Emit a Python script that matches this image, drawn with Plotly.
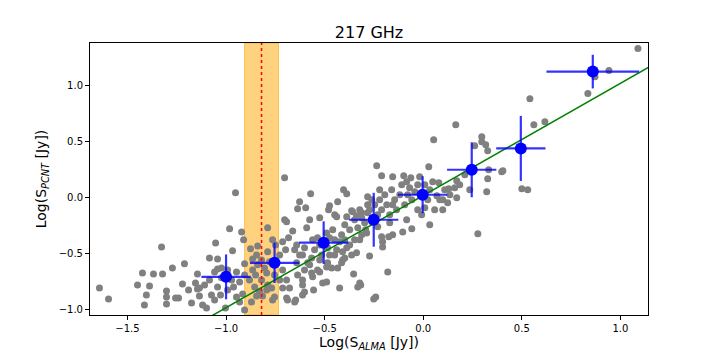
import plotly.graph_objects as go

# gray sources: log S_ALMA vs log S_PCNT
src_x = [
    -1.642, -1.596, -1.424, -1.449, -1.388, -1.404, -1.414, -1.368, -1.322, -1.327,
    -1.302, -1.302, -1.302, -1.272, -1.211, -1.256, -1.241, -1.221, -1.190, -1.175,
    -1.155, -1.145, -1.145, -1.135, -1.119, -1.099, -1.084, -1.053, -1.043, -1.043,
    -1.023, -1.043, -1.028, -1.003, -0.982, -0.967, -0.921, -0.911, -0.962, -0.947,
    -0.916, -0.947, -0.906, -0.876, -0.865, -0.865, -0.840, -0.845, -0.881, -0.855,
    -0.871, -0.845, -0.815, -0.789, -0.764, -0.789, -0.794, -0.769, -0.764, -0.693,
    -0.713, -0.698, -0.683, -0.662, -0.642, -0.713, -0.693, -0.693, -0.647, -0.678,
    -0.612, -0.602, -0.612, -0.586, -0.576, -0.591, -0.536, -0.510, -0.525, -0.490,
    -0.475, -0.434, -0.424, -0.409, -0.388, -0.353, -0.332, -0.312, -0.297, -0.282,
    -0.282, -0.358, -0.388, -0.439, -0.459, -0.414, -0.439, -0.490, -0.561, -0.602,
    -0.642, -0.561,
    -0.703, -0.571, -0.627, -0.596, -0.637, -0.434, -0.404, -0.388, -0.475, -0.480,
    -0.449, -0.525, -0.703, -0.363, -0.312, -0.338, -0.952,
    -0.688, -0.652, -0.612, -0.556, -0.490, -0.322, -0.754, -0.794, -0.713, -0.612,
    -0.566, -0.525, -0.464, -0.414, -0.409, -0.338, -0.322, -0.287, -0.485,
    0.033, -0.058, -0.104, 0.277, -0.155, -0.175, -0.211, -0.206, -0.206, -0.272,
    -0.180, -0.241, -0.251, -0.170, -0.084, -0.231,
    0.500, 0.530, 0.322, 0.327, 0.398, 0.170, 0.099, 0.124, -0.317, -0.018,
    -0.084, 0.069, 0.008, -0.155,
    1.089, 0.942, 0.871, 0.835, 0.541, 0.561, 0.617, 0.165, 0.053, 0.297,
    0.261, 0.297, 0.317, 0.327, -0.236, -0.211, 0.028, 0.332, 0.404, -0.099,
    -0.155, -0.063, 0.170, 0.129, 0.079, 0.099,
    -0.398, -0.373, -0.348, -0.332, -0.312, -0.292, -0.272, -0.261, -0.246, -0.231,
    -0.221, -0.211, -0.195, -0.185, -0.170, -0.160, -0.145, -0.135, -0.119, -0.109,
    -0.094, -0.079, -0.069, -0.058, -0.043, -0.028, -0.221, -0.261, -0.282, -0.322,
    -0.348, -0.373, -0.398, -0.424, -0.363, -0.398, -0.449, -0.475, -0.500, -0.536,
    -0.551, -0.515, -0.485, -0.449, -0.566, -0.627, -0.652, -0.728, -0.749, -0.820,
    -0.840, -0.805, -0.779, -0.754, -0.728, -0.820, -0.789, -0.850, -0.906, -0.931,
    -0.972, -0.992, -1.023, -1.058, -1.084, -1.109, -1.135, -0.992, -0.931, -1.074,
    -1.058, -0.906, -0.830, -0.602, -0.576, -0.525, -0.637,
    0.008, 0.033, 0.048, 0.084, 0.109, 0.135, 0.160, 0.023, -0.028, -0.008,
    0.058, 0.185, 0.211, 0.236,
]
src_y = [
    -0.804, -0.902, -0.670, -0.777, -0.786, -0.866, -0.955, -0.679, -0.679, -0.438,
    -0.830, -0.884, -0.946, -0.625, -0.589, -0.893, -0.893, -0.768, -0.821, -0.938,
    -0.759, -0.679, -0.813, -0.875, -0.955, -0.982, -0.536, -0.402, -0.545, -0.634,
    -0.714, -0.795, -0.866, -0.982, -0.277, -0.473, -0.304, -0.375, -0.795, -0.884,
    -0.857, -0.661, -0.589, -0.455, -0.545, -0.643, -0.429, -0.509, -0.732, -0.795,
    -0.929, -0.875, -0.875, -0.268, -0.375, -0.482, -0.670, -0.804, -0.911, -0.214,
    -0.393, -0.464, -0.357, -0.295, -0.420, -0.643, -0.732, -0.893, -0.911, -0.804,
    -0.777, -0.839, -0.509, -0.580, -0.196, -0.268, -0.643, -0.759, -0.420, -0.616,
    -0.509, -0.625, -0.804, -0.554, -0.446, -0.679, -0.795, -0.330, -0.223, -0.134,
    0.009, -0.125, -0.170, -0.170, -0.286, -0.330, -0.464, -0.313, -0.375, -0.446,
    -0.580, -0.705,
    0.179, 0.036, -0.036, -0.089, -0.098, -0.036, 0.071, 0.036, -0.071, -0.107,
    -0.152, -0.179, -0.196, -0.116, -0.134, -0.161, 0.045,
    -0.911, -0.929, -0.866, -0.821, -0.750, -0.759, -0.884, -0.821, -0.804, -0.732,
    -0.670, -0.661, -0.625, -0.580, -0.482, -0.491, -0.375, -0.313, -0.580,
    -0.241, -0.277, -0.304, -0.321, -0.330, -0.348, -0.348, -0.438, -0.393, -0.518,
    -0.661, -0.884, -0.902, -0.223, -0.196, -0.259,
    0.080, 0.071, 0.054, 0.170, 0.232, 0.000, -0.107, -0.045, -0.777, 0.188,
    0.143, 0.018, -0.089, -0.063,
    1.330, 1.134, 1.080, 0.929, 0.884, 0.652, 0.679, 0.652, 0.518, 0.545,
    0.464, 0.500, 0.473, 0.420, 0.286, 0.196, 0.277, 0.250, 0.241, 0.196,
    0.188, 0.179, 0.152, 0.080, 0.134, -0.018,
    -0.241, -0.286, -0.196, -0.268, -0.179, -0.286, -0.107, -0.214, -0.063, -0.152,
    -0.018, -0.107, 0.027, -0.063, -0.152, 0.071, -0.018, -0.107, 0.027, 0.116,
    -0.063, 0.027, 0.089, -0.018, 0.054, 0.116, 0.071, -0.018, -0.063, -0.107,
    -0.375, -0.420, -0.375, -0.393, -0.509, -0.536, -0.375, -0.357, -0.393, -0.357,
    -0.464, -0.509, -0.446, -0.509, -0.536, -0.509, -0.464, -0.509, -0.420, -0.554,
    -0.598, -0.625, -0.571, -0.688, -0.732, -0.732, -0.777, -0.688, -0.688, -0.750,
    -0.732, -0.643, -0.625, -0.661, -0.732, -0.777, -0.804, -0.821, -0.929, -0.866,
    -0.911, -1.000, -0.839, -0.643, -0.598, -0.554, -0.688,
    0.116, 0.071, 0.143, -0.018, 0.071, 0.027, 0.089, -0.018, -0.107, -0.152,
    -0.107, 0.116, 0.205, 0.071,
]

# binned means with errors
bin_x = [-1.0, -0.754, -0.505, -0.251, -0.003, 0.246, 0.495, 0.86]
bin_y = [-0.705, -0.58, -0.40, -0.196, 0.027, 0.25, 0.44, 1.125]
bin_xerr = [0.125, 0.125, 0.125, 0.125, 0.125, 0.125, 0.125, 0.235]
bin_yerr = [0.2, 0.18, 0.19, 0.24, 0.165, 0.245, 0.29, 0.15]

# 1:1 relation and the flux-limit band
line_x = [-1.7, 1.15]
line_y = [-1.68, 1.17]
band_lo, band_hi = -0.906, -0.734
limit_x = -0.82

fig = go.Figure()

fig.add_trace(go.Scatter(x=src_x, y=src_y, mode='markers',
                         marker=dict(color='#808080', size=7), showlegend=False))
fig.add_trace(go.Scatter(x=line_x, y=line_y, mode='lines',
                         line=dict(color='green', width=1.5), showlegend=False))
fig.add_trace(go.Scatter(x=bin_x, y=bin_y, mode='markers',
                         marker=dict(color='blue', size=12),
                         error_x=dict(type='data', array=bin_xerr, width=0, thickness=2.2,
                                      color='rgba(0,0,255,0.8)'),
                         error_y=dict(type='data', array=bin_yerr, width=0, thickness=2.2,
                                      color='rgba(0,0,255,0.8)'),
                         showlegend=False))

fig.add_vrect(x0=band_lo, x1=band_hi, fillcolor='rgba(255,165,0,0.5)',
              line=dict(color='rgba(255,165,0,0.6)', width=1), layer='below')
fig.add_vline(x=limit_x, line=dict(color='red', width=1.5, dash='dot'), layer='above')

axis_style = dict(showline=True, linecolor='black', linewidth=1, mirror=True,
                  ticks='outside', ticklen=4, tickcolor='black', showgrid=False,
                  zeroline=False, tickfont=dict(size=10, color='black'),
                  tickformat='.1f', automargin=False)

fig.update_xaxes(range=[-1.69, 1.14], tickvals=[-1.5, -1.0, -0.5, 0.0, 0.5, 1.0],
                 title=dict(text='Log(S<sub><i>ALMA</i></sub> [Jy])',
                            font=dict(size=14, color='black'), standoff=8),
                 **axis_style)
fig.update_yaxes(range=[-1.045, 1.38], tickvals=[-1.0, -0.5, 0.0, 0.5, 1.0],
                 title=dict(text='Log(S<sub><i>PCNT</i></sub> [Jy])',
                            font=dict(size=14, color='black'), standoff=8),
                 **axis_style)

# page body adds an 8px offset, so the figure is drawn a little smaller
fig.update_layout(width=704, height=344, autosize=False,
                  margin=dict(l=82, r=64, t=35, b=37),
                  plot_bgcolor='white', paper_bgcolor='white',
                  font=dict(family='DejaVu Sans', color='black'),
                  title=dict(text='217 GHz', x=0.5, xref='paper', y=0.93, yanchor='middle',
                             font=dict(size=16, color='black')))

fig.write_html("out.html")
